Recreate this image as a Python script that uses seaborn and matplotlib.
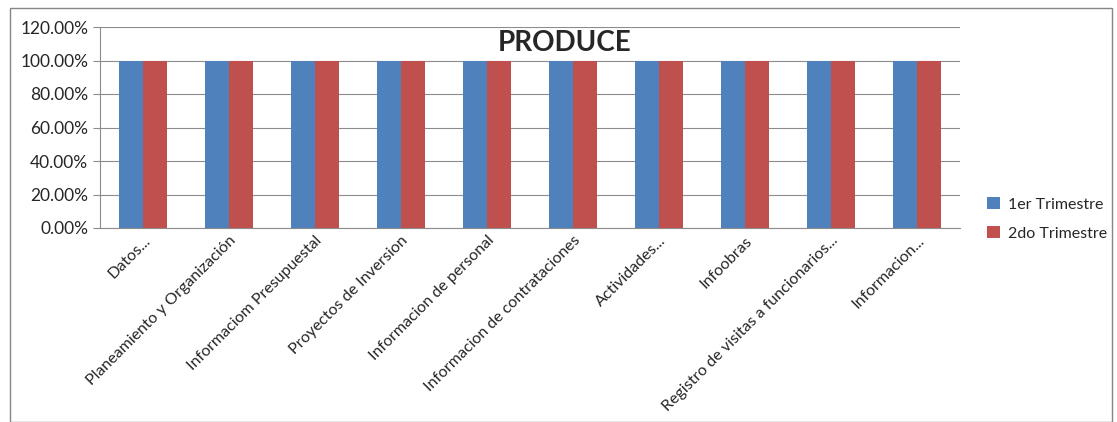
import pandas as pd
import matplotlib.pyplot as plt
import matplotlib.ticker as mtick
import seaborn as sns

categories = [
    'Datos...',
    'Planeamiento y Organización',
    'Informaciom Presupuestal',
    'Proyectos de Inversion',
    'Informacion de personal',
    'Informacion de contrataciones',
    'Actividades...',
    'Infoobras',
    'Registro de visitas a funcionarios...',
    'Informacion...',
]
trim1 = [1.0, 1.0, 1.0, 1.0, 1.0, 1.0, 1.0, 1.0, 1.0, 1.0]
trim2 = [1.0, 1.0, 1.0, 1.0, 1.0, 1.0, 1.0, 1.0, 1.0, 1.0]
series = ['1er Trimestre', '2do Trimestre']

df = pd.DataFrame({
    'categoria': categories * 2,
    'valor': trim1 + trim2,
    'serie': [series[0]] * len(categories) + [series[1]] * len(categories),
})

sns.set_style("white")
plt.rcParams['font.family'] = ['Lato', 'DejaVu Sans']

fig = plt.figure(figsize=(11.17, 4.22), dpi=100)
ax = fig.add_axes([100 / 1117, 1 - 228 / 422, 860 / 1117, 201 / 422])

sns.barplot(
    ax=ax,
    data=df,
    x='categoria',
    y='valor',
    hue='serie',
    palette={series[0]: '#4F81BD', series[1]: '#C0504D'},
    width=0.56,
    saturation=1,
    linewidth=0,
)

ax.set_ylim(0, 1.2)
ax.set_yticks([0, 0.2, 0.4, 0.6, 0.8, 1.0, 1.2])
ax.yaxis.set_major_formatter(mtick.PercentFormatter(1.0, decimals=2))
ax.set_xlim(-0.5, len(categories) - 0.5)
ax.grid(axis='y', color='#8c8c8c', linewidth=0.8)
ax.set_axisbelow(True)
ax.set_xlabel('')
ax.set_ylabel('')

for side in ['top', 'right']:
    ax.spines[side].set_visible(False)
for side in ['left', 'bottom']:
    ax.spines[side].set_color('#8c8c8c')

ax.set_xticks(range(len(categories)))
ax.set_xticklabels(categories, rotation=45, ha='right', rotation_mode='anchor', fontsize=11.5)
ax.tick_params(axis='x', length=0, pad=4)
ax.set_xticks([i - 0.5 for i in range(len(categories) + 1)], minor=True)
ax.tick_params(axis='x', which='minor', length=5, color='#8c8c8c', direction='out')
ax.tick_params(axis='y', length=5, color='#8c8c8c', labelsize=12.5, direction='out', left=True)

ax.text(0.54, 0.92, 'PRODUCE', transform=ax.transAxes, ha='center', va='center',
        fontsize=20, fontweight='bold')

ax.legend(loc='center left', bbox_to_anchor=(1.015, 0.045), frameon=False,
          fontsize=11.5, handlelength=0.8, handleheight=0.8, labelspacing=0.9,
          handletextpad=0.5)

fig.patches.append(plt.Rectangle((10 / 1117, 0), 1102 / 1117, 414 / 422,
                                 transform=fig.transFigure, fill=False,
                                 edgecolor='#868686', linewidth=1))

fig.savefig('out.png', dpi=100)
